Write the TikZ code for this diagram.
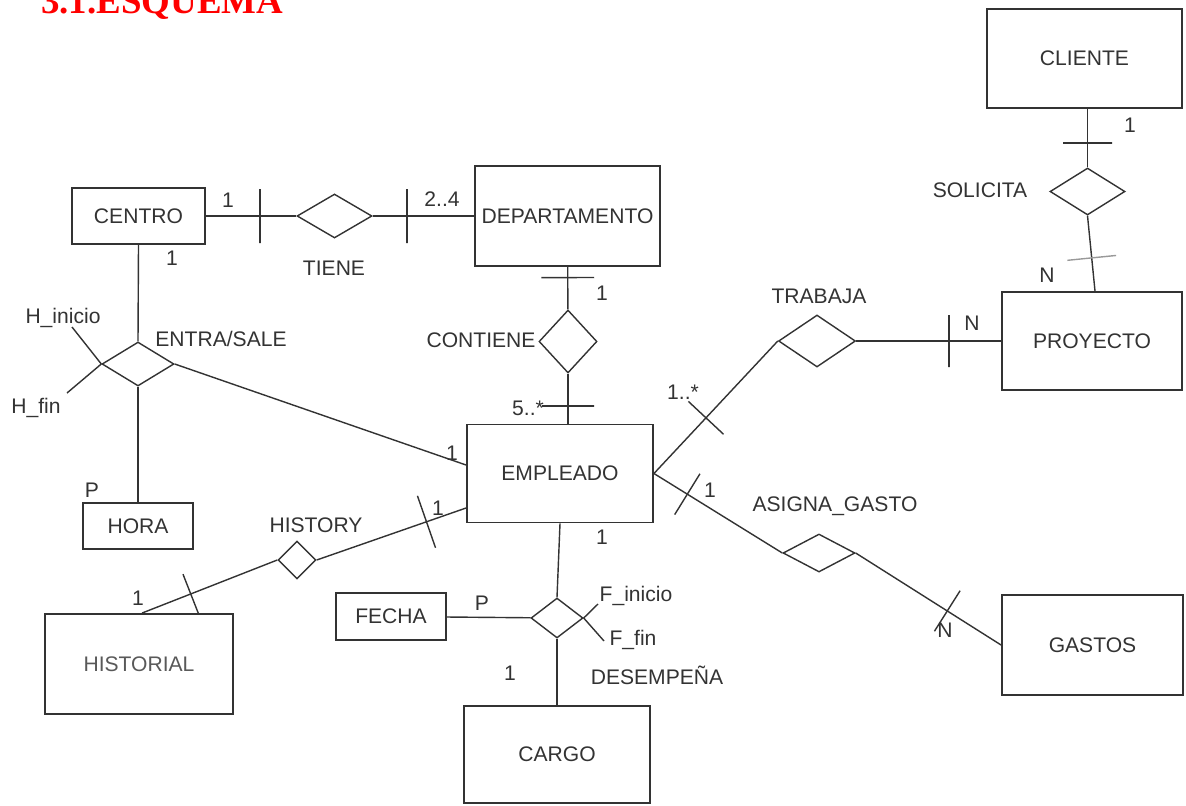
\documentclass[tikz,border=0pt]{standalone}
\usepackage{fontspec}
\setmainfont{Liberation Serif}
\setsansfont{Liberation Sans}
\usetikzlibrary{shapes.geometric,calc}

\begin{document}
\begin{tikzpicture}[x=0.02cm, y=-0.02cm,
		every node/.style={font=\sffamily\fontsize{12}{14}\selectfont, text=black!80},
		ent/.style={draw=black!80, line width=1.1pt, inner sep=0pt},
		rel/.style={diamond, draw=black!80, line width=0.8pt, inner sep=0pt},
		link/.style={draw=black!80, line width=0.8pt},
		tick/.style={rectangle, sloped, draw=black!80, line width=0.8pt, minimum width=0pt, minimum height=#1, inner sep=0pt, outer sep=0pt}]
		\useasboundingbox (0,0) rectangle (1186,805);
		\node[font=\rmfamily\bfseries\fontsize{21}{24}\selectfont, text=red, anchor=base west] (titulo) at (35,13) {3.1.ESQUEMA};
		% entidades
		\node[ent, minimum width=2.66cm, minimum height=1.12cm] (centro) at (138.5,216) {CENTRO};
		\node[ent, minimum width=3.7cm, minimum height=2cm] (depto) at (567.5,216) {DEPARTAMENTO};
		\node[ent, minimum width=3.9cm, minimum height=1.98cm] (cliente) at (1084.5,58.5) {CLIENTE};
		\node[ent, minimum width=3.6cm, minimum height=1.96cm] (proyecto) at (1092,341) {PROYECTO};
		\node[ent, minimum width=3.72cm, minimum height=1.96cm] (emp) at (560,473.5) {EMPLEADO};
		\node[ent, minimum width=2.2cm, minimum height=0.92cm] (hora) at (138,526) {HORA};
		\node[ent, minimum width=3.76cm, minimum height=2cm, text=black!65] (historial) at (139,664) {HISTORIAL};
		\node[ent, minimum width=2.2cm, minimum height=0.94cm] (fecha) at (391,616.5) {FECHA};
		\node[ent, minimum width=3.72cm, minimum height=1.94cm] (cargo) at (557,754.5) {CARGO};
		\node[ent, minimum width=3.62cm, minimum height=2cm] (gastos) at (1092.5,645) {GASTOS};
		% relaciones
		\node[rel, minimum width=1.5cm, minimum height=0.88cm] (tiene) at (334.5,216) {};
		\node[rel, minimum width=1.44cm, minimum height=0.88cm] (es) at (138,364) {};
		\node[rel, minimum width=1.16cm, minimum height=1.26cm] (contiene) at (568,341.5) {};
		\node[rel, minimum width=1.54cm, minimum height=1.04cm] (trabaja) at (817,341) {};
		\node[rel, minimum width=1.5cm, minimum height=0.94cm] (solicita) at (1087.5,191.5) {};
		\node[rel, minimum width=0.76cm, minimum height=0.76cm] (history) at (297,560) {};
		\node[rel, minimum width=1.04cm, minimum height=0.8cm] (desemp) at (557,618) {};
		\node[rel, minimum width=1.44cm, minimum height=0.76cm] (asigna) at (819,553) {};
		% nombres
		\node (ltiene) at (334,268) {TIENE};
		\node (les) at (221,339) {ENTRA/SALE};
		\node (lcontiene) at (481,340) {CONTIENE};
		\node (ltrabaja) at (819,296) {TRABAJA};
		\node (lsolicita) at (980,190) {SOLICITA};
		\node (lhistory) at (316,525) {HISTORY};
		\node (ldesemp) at (657,675) {DESEMPEÑA};
		\node (lasigna) at (835,506) {ASIGNA\_GASTO};
		% atributos
		\node (lhini) at (63,318) {H\_inicio};
		\node (lhfin) at (36,408) {H\_fin};
		\node (lfini) at (636,596) {F\_inicio};
		\node (lffin) at (633,640) {F\_fin};
		\coordinate (hini) at (72,327);
		\coordinate (hfin) at (67,393);
		\coordinate (fini) at (598,604);
		\coordinate (ffin) at (604,641);
		% conexiones
		\draw[link] (centro) -- node[tick=1.08cm, pos=0.6] (t1) {} (tiene);
		\draw[link] (tiene) -- node[tick=1.08cm, pos=0.34] (t2) {} (depto);
		\draw[link] (centro.south) -- (es.north);
		\draw[link] (es) -- (hora);
		\draw[link] (es.east) -- ($(emp.west)+(0,-8.5)$);
		\draw[link] (hini) -- (es.west);
		\draw[link] (hfin) -- (es.west);
		\draw[link] (depto) -- node[tick=1.06cm, pos=0.25] (t3) {} (contiene);
		\draw[link] (contiene) -- node[tick=1.04cm, pos=0.65] (t4) {} (contiene.south |- emp.north);
		\draw[link] (emp.east) -- node[tick=0.96cm, pos=0.42] (t5) {} (trabaja.west);
		\draw[link] (trabaja) -- node[tick=1.04cm, pos=0.64] (t6) {} (proyecto);
		\draw[link] (cliente.south -| solicita.north) -- node[tick=0.98cm, pos=0.58] (t7) {} (solicita.north);
		\draw[link] (solicita.south) -- node[tick=0.98cm, pos=0.56, draw=black!40] (t8) {} ($(proyecto.north)+(3,0)$);
		\draw[link] (emp.east) -- node[tick=0.96cm, pos=0.26] (t9) {} (asigna.west);
		\draw[link] (asigna.east) -- node[tick=0.96cm, pos=0.63] (t10) {} (gastos.west);
		\draw[link] (history.east) -- node[tick=1.1cm, pos=0.735] (t11) {} ($(emp.west)+(0,34.5)$);
		\draw[link] (history.west) -- node[tick=0.85cm, pos=0.64] (t12) {} ($(historial.north west)+(98,0)$);
		\draw[link] (fecha) -- (desemp);
		\draw[link] (emp.south) -- (desemp.north);
		\draw[link] (desemp) -- (cargo);
		\draw[link] (fini) -- (desemp.east);
		\draw[link] (ffin) -- (desemp.east);
		% cardinalidades
		\node (c1) at (228,200) {1};
		\node (c2) at (442,199) {2..4};
		\node (c3) at (172,258) {1};
		\node (c4) at (92,490) {P};
		\node (c5) at (452,453) {1};
		\node (c6) at (602,293) {1};
		\node (c7) at (528,408) {5..*};
		\node (c8) at (683,392) {1..*};
		\node (c9) at (972,323) {N};
		\node (c10) at (1130,125) {1};
		\node (c11) at (1047,275) {N};
		\node (c12) at (710,490) {1};
		\node (c13) at (945,630) {N};
		\node (c14) at (438,508) {1};
		\node (c15) at (138,598) {1};
		\node (c16) at (482,603) {P};
		\node (c17) at (602,537) {1};
		\node (c18) at (510,673) {1};
	\end{tikzpicture}
\end{document}
